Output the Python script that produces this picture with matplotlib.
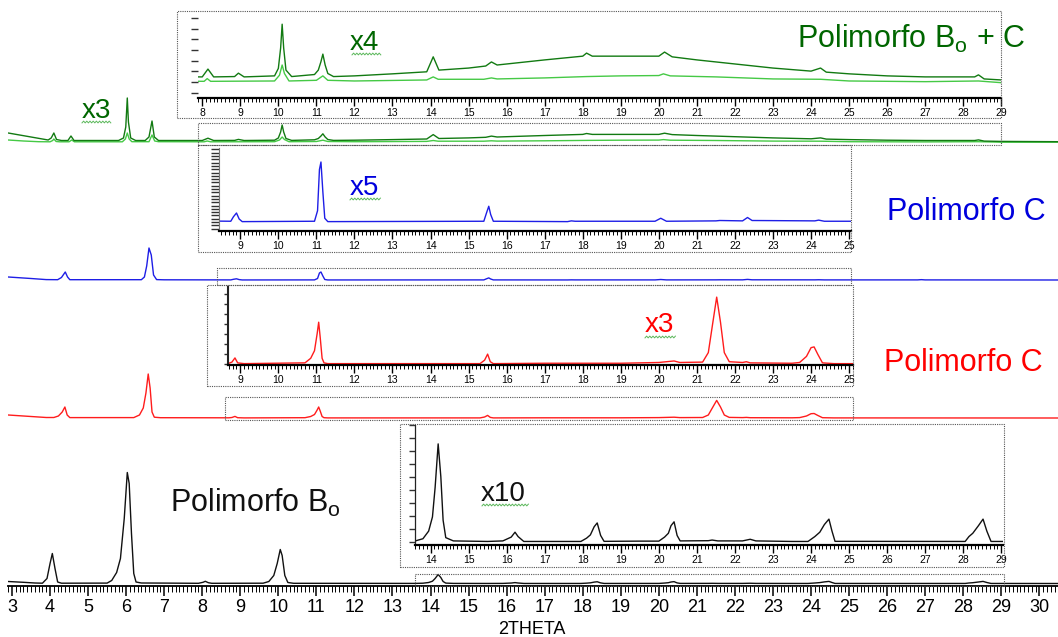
import matplotlib
matplotlib.use('Agg')
import matplotlib.pyplot as plt
from matplotlib.ticker import MultipleLocator, NullLocator
from matplotlib.patches import Rectangle
from matplotlib.lines import Line2D
import numpy as np

plt.rcParams['font.family'] = ['Liberation Sans', 'DejaVu Sans']
plt.rcParams['mathtext.default'] = 'regular'

# ---------------- data (2theta, intensity above each trace baseline) ----------------
black_x = [2.9, 3.3, 3.6, 3.8, 3.92, 4.0, 4.06, 4.13, 4.2, 4.3,
           5.5, 5.62, 5.75, 5.85, 5.95, 6.03, 6.08, 6.14, 6.2, 6.26, 6.4, 7.0,
           7.9, 8.02, 8.08, 8.16, 8.25,
           9.6, 9.75, 9.88, 9.97, 10.05, 10.1, 10.17, 10.25, 10.4,
           13.6, 13.8, 13.95, 14.05, 14.12, 14.2, 14.27, 14.33, 14.4, 14.6,
           15.5, 15.9, 16.12, 16.22, 16.3, 16.45, 17.5,
           17.95, 18.1, 18.2, 18.3, 18.38, 18.47, 18.56, 19.5,
           20.0, 20.15, 20.25, 20.32, 20.4, 20.48, 20.56,
           21.3, 21.4, 21.55, 22.2, 22.4, 22.55, 23.5,
           23.92, 24.1, 24.23, 24.35, 24.47, 24.55, 24.63,
           28.05, 28.15, 28.25, 28.4, 28.52, 28.62, 28.73, 29.05, 30.5]
black_y = [2.0, 1.2, 0.5, 0.3, 5, 20, 30, 15, 1.5, 0.3,
           0.4, 3, 11, 25, 65, 111, 100, 50, 10, 1.5, 0.5, 0.4,
           0.2, 1.2, 2.2, 0.8, 0.2,
           0.3, 2, 8, 20, 34, 28, 8, 1, 0.2,
           0.1, 0.3, 1.0, 2.3, 5.0, 9.0, 6.0, 2.0, 0.4, 0.1,
           0.05, 0.1, 0.45, 0.9, 0.5, 0.05, 0.05,
           0.05, 0.35, 0.65, 1.4, 1.75, 0.6, 0.06, 0.08,
           0.08, 0.45, 0.8, 1.5, 1.85, 0.6, 0.1,
           0.12, 0.18, 0.1, 0.1, 0.25, 0.1, 0.05,
           0.05, 0.5, 0.9, 1.6, 2.1, 1.0, 0.06,
           0.05, 0.5, 0.8, 1.5, 2.1, 1.0, 0.05, 0.05, 0.0]

red_x = [2.9, 3.5, 3.9, 4.1, 4.22, 4.32, 4.39, 4.45, 4.52,
         6.2, 6.35, 6.45, 6.52, 6.58, 6.63, 6.68, 6.74, 6.9,
         8.7, 8.78, 8.86, 8.93, 9.1,
         10.7, 10.85, 10.95, 11.02, 11.06, 11.1, 11.15, 11.2, 11.3,
         15.3, 15.42, 15.5, 15.57, 15.65,
         17.0, 19.0, 20.0, 20.4, 20.55,
         21.15, 21.3, 21.42, 21.52, 21.62, 21.72, 21.85,
         22.2, 22.3, 22.4, 23.5,
         23.7, 23.88, 24.0, 24.08, 24.18, 24.3, 24.6, 30.5]
red_y = [3.0, 1.5, 0.5, 0.5, 2, 6, 11, 3, 0.4,
         0.4, 3, 10, 25, 44, 30, 6, 0.8, 0.3,
         0.2, 0.5, 1.6, 0.3, 0.1,
         0.3, 1.5, 3.5, 8, 11, 7, 1.5, 0.3, 0.1,
         0.1, 1.0, 2.6, 0.6, 0.1,
         0.2, 0.2, 0.4, 0.8, 0.4,
         0.5, 3, 11, 17.6, 11, 3, 0.6,
         0.4, 0.6, 0.3, 0.2,
         0.4, 2, 4.3, 4.5, 2.5, 0.3, 0.1, 0.0]

blue_x = [2.9, 3.5, 3.9, 4.2, 4.3, 4.4, 4.46, 4.52,
          6.4, 6.48, 6.54, 6.6, 6.66, 6.72, 6.8, 7.0,
          8.75, 8.82, 8.9, 8.97, 9.05,
          10.95, 11.03, 11.08, 11.12, 11.17, 11.22, 11.3,
          15.4, 15.47, 15.53, 15.58, 15.65,
          17.6, 17.7, 17.8, 19.9, 20.05, 20.2,
          21.5, 21.6, 22.2, 22.33, 22.45, 24.1, 24.2, 24.35,
          26.8, 26.9, 27.0, 30.5]
blue_y = [3.0, 1.5, 0.4, 0.3, 2.5, 8, 3, 0.3,
          0.3, 3, 14, 32, 25, 5, 0.4, 0.2,
          0.1, 0.7, 1.2, 0.4, 0.05,
          0.1, 1.5, 7, 8, 4, 0.5, 0.05,
          0.1, 1.2, 2.1, 1.0, 0.1,
          0.05, 0.15, 0.1, 0.1, 0.5, 0.1,
          0.15, 0.2, 0.15, 0.6, 0.2, 0.15, 0.25, 0.1,
          0.1, 0.35, 0.1, 0.0]

green_light_x = [2.9, 3.3, 3.7, 4.0, 4.07, 4.1, 4.16, 4.25,
                 4.5, 4.57, 4.64, 5.9, 5.98, 6.03, 6.08, 6.15,
                 6.6, 6.68, 6.75, 6.85, 8.05, 8.13, 8.22,
                 9.9, 10.03, 10.1, 10.16, 10.28, 11.0, 11.17, 11.3,
                 12.0, 13.9, 14.07, 14.2, 15.4, 15.6, 15.75,
                 17.0, 18.1, 19.0, 20.0, 20.12, 20.3, 21.5, 23.0,
                 24.25, 25.0, 27.0, 28.4, 29.0, 30.5]
green_light_y = [2.0, 1.0, 0.3, 0.2, 1.5, 3, 0.5, 0.2,
                 0.2, 2, 0.2, 0.2, 3, 9, 3, 0.3,
                 0.3, 7, 1, 0.3, 0.2, 1, 0.2,
                 0.3, 2, 5, 2.5, 0.3, 0.5, 1.8, 0.5,
                 0.3, 0.6, 1.5, 0.8, 0.8, 1.2, 0.9,
                 1.2, 1.6, 1.8, 1.9, 2.4, 1.8, 1.5, 0.9,
                 0.8, 0.3, 0.1, 0.3, -0.2, -0.2]

green_dark_x = [2.9, 3.2, 3.5, 3.8, 3.95, 4.03, 4.1, 4.17, 4.3,
                4.47, 4.55, 4.63, 5.8, 5.93, 5.99, 6.03, 6.06, 6.12, 6.25,
                6.5, 6.6, 6.68, 6.74, 6.85,
                8.0, 8.15, 8.3, 8.85, 8.95, 9.1,
                9.9, 10.0, 10.06, 10.1, 10.14, 10.2, 10.35,
                10.95, 11.05, 11.12, 11.17, 11.23, 11.3, 11.45,
                12.0, 13.0, 13.9, 14.07, 14.22, 15.0, 15.45, 15.6, 15.75,
                16.5, 17.0, 18.0, 18.1, 18.25, 19.0, 20.0, 20.15, 20.35,
                21.0, 22.0, 23.0, 24.0, 24.25, 24.4, 25.0, 26.0, 27.0,
                28.3, 28.4, 28.55, 29.0, 30.5]
green_dark_y = [9, 7, 5, 3, 2, 4, 9, 2.5, 1.5,
                1.5, 6, 1.5, 1.5, 4, 15, 44, 20, 4, 1.5,
                1.5, 5, 21, 5, 1.5,
                1.5, 3.8, 1.5, 1.6, 2.6, 1.5,
                1.8, 4, 10, 17, 10, 3.5, 1.6,
                2.2, 3.5, 6, 8.2, 5, 2.5, 1.6,
                1.8, 2.4, 3.0, 7.4, 3.5, 4.1, 4.7, 5.9, 5.0,
                5.9, 6.5, 7.6, 8.5, 7.6, 7.6, 7.6, 8.8, 7.4,
                6.5, 5.3, 4.1, 3.2, 4.1, 2.9, 2.4, 1.8, 1.5,
                1.5, 2.1, 0.9, 0.6, 0.3]

# ---------------- layout ----------------
W, H = 1058, 637
fig = plt.figure(figsize=(W / 100, H / 100), dpi=100)


def fx(px):
    return np.asarray(px) / W


def fy(py):
    return 1 - np.asarray(py) / H


X0_PX, X1_PX = 8, 1058
XMIN, XMAX = 2.895, 30.49
AXIS_PX = 586


def d2px(x):
    return X0_PX + (x - XMIN) * (X1_PX - X0_PX) / (XMAX - XMIN)


C_DARKG = '#127a12'
C_LIGHTG = '#45c945'
C_BLUE = '#1e1ee6'
C_RED = '#ff1c1c'
C_BLACK = '#111111'

ax = fig.add_axes([fx(X0_PX), fy(AXIS_PX), fx(X1_PX - X0_PX), AXIS_PX / H])
ax.set_xlim(XMIN, XMAX)
ax.set_ylim(0, AXIS_PX)
ax.patch.set_alpha(0)
for s in ['top', 'right', 'left']:
    ax.spines[s].set_visible(False)
ax.spines['bottom'].set_linewidth(1.3)
ax.set_yticks([])
ax.xaxis.set_major_locator(MultipleLocator(1))
ax.xaxis.set_minor_locator(MultipleLocator(0.1))
ax.tick_params(axis='x', which='major', length=7, width=1.1, labelsize=13, pad=2)
ax.tick_params(axis='x', which='minor', length=4, width=0.7)

OFF_GREEN, OFF_BLUE, OFF_RED, OFF_BLACK = 444, 306, 168, 2.5
ax.plot(green_light_x, np.array(green_light_y) + OFF_GREEN, color=C_LIGHTG, lw=1.0)
ax.plot(green_dark_x, np.array(green_dark_y) + OFF_GREEN, color=C_DARKG, lw=1.0)
ax.plot(blue_x, np.array(blue_y) + OFF_BLUE, color=C_BLUE, lw=1.0)
ax.plot(red_x, np.array(red_y) + OFF_RED, color=C_RED, lw=1.0)
ax.plot(black_x, np.array(black_y) + OFF_BLACK, color=C_BLACK, lw=1.0)

fig.text(fx(532), fy(630), '2THETA', fontsize=13, ha='center', va='center')

DOT = dict(fill=False, linestyle=(0, (1, 1)), edgecolor='#555555', lw=0.8)


def fig_rect(x0, y0, x1, y1):
    fig.add_artist(Rectangle((fx(x0), fy(y1)), fx(x1 - x0), (y1 - y0) / H,
                             transform=fig.transFigure, **DOT))


def make_inset(xlim, top_px, bot_px, ylim, ystep, spine_color, spine_lw, tick_len):
    l, r = d2px(xlim[0]), d2px(xlim[1])
    a = fig.add_axes([fx(l), fy(bot_px), fx(r - l), (bot_px - top_px) / H])
    a.set_xlim(xlim)
    a.set_ylim(ylim)
    a.patch.set_alpha(0)
    for s in ['top', 'right']:
        a.spines[s].set_visible(False)
    a.spines['bottom'].set_linewidth(1.6)
    if spine_color is None:
        a.spines['left'].set_visible(False)
    else:
        a.spines['left'].set_color(spine_color)
        a.spines['left'].set_linewidth(spine_lw)
    a.xaxis.set_major_locator(MultipleLocator(1))
    a.xaxis.set_minor_locator(MultipleLocator(0.1))
    a.tick_params(axis='x', which='major', length=6, width=1.0, labelsize=7.5, pad=1.5)
    a.tick_params(axis='x', which='minor', length=3, width=0.7)
    a.yaxis.set_major_locator(MultipleLocator(ystep))
    a.yaxis.set_minor_locator(NullLocator())
    a.tick_params(axis='y', labelleft=False, length=tick_len, width=1.0, color='#333333')
    return a


# green inset (x4)
gi = make_inset((7.9, 29.0), 12, 98, (-16 / 3.4, 70 / 3.4), 10.7 / 3.4, None, 0, 5)
gi.plot(green_light_x, green_light_y, color=C_LIGHTG, lw=1.0)
gi.plot(green_dark_x, green_dark_y, color=C_DARKG, lw=1.0)
fig_rect(177, 11, 1001, 118)
fig_rect(d2px(7.9), 123, 1001, 145)

# blue inset (x5)
bi = make_inset((8.45, 25.05), 148, 231, (-9 / 7.5, 74 / 7.5), 3.3 / 7.5, '#777777', 0.8, 6)
bi.plot(blue_x, blue_y, color=C_BLUE, lw=1.0)
fig_rect(198, 145, 851, 252)
fig_rect(d2px(8.4), 268, 851, 285)

# red inset (x3)
ri = make_inset((8.68, 25.1), 287, 365, (-1 / 3.8, 77 / 3.8), 10 / 3.8, '#222222', 1.5, 3)
ri.plot(red_x, red_y, color=C_RED, lw=1.0)
fig_rect(207, 285, 853, 386)
fig_rect(d2px(8.6), 397, 853, 420)

# black inset (x10)
ki = make_inset((13.6, 29.05), 425, 545, (-3 / 10.9, 117 / 10.9), 13 / 10.9, '#222222', 0.9, 4)
ki.plot(black_x, black_y, color=C_BLACK, lw=1.0)
fig_rect(400, 424, 1004, 567)
fig_rect(d2px(13.6), 574, 1004, 586)


# ---------------- labels ----------------
def label(px, py, s, color, size):
    fig.text(fx(px), fy(py), s, color=color, fontsize=size, ha='left', va='baseline')


def squiggle(x0, x1, y):
    xs = np.arange(x0, x1, 1.6)
    ys = y + np.where(np.arange(len(xs)) % 2 == 0, 0.9, -0.9)
    fig.add_artist(Line2D(fx(xs), fy(ys), color='#5cb85c', lw=0.7))


label(797, 48, 'Polimorfo $B_o$ + C', '#006600', 22)
label(887, 220, 'Polimorfo C', '#0000dd', 22)
label(884, 371, 'Polimorfo C', '#ff0000', 22)
label(170, 512, 'Polimorfo $B_o$', '#111111', 22)

label(82, 118, 'x3', '#006600', 20)
label(350, 50, 'x4', '#006600', 20)
label(350, 195, 'x5', '#0000dd', 20)
label(645, 332, 'x3', '#ff0000', 20)
label(481, 501, 'x10', '#111111', 20)

squiggle(82, 112, 122)
squiggle(352, 381, 54)
squiggle(350, 382, 199)
squiggle(645, 677, 337)
squiggle(482, 530, 505)

fig.savefig('out.png', dpi=100)
